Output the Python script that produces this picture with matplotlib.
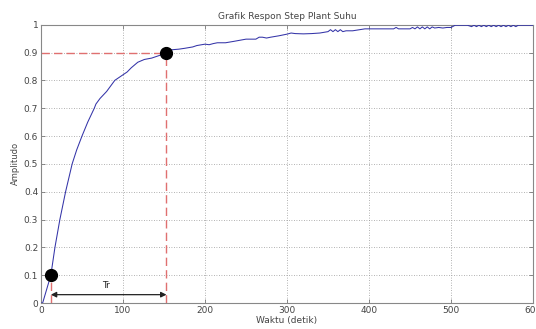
import matplotlib
matplotlib.use("Agg")
import matplotlib.pyplot as plt

# Data
t = [0, 2, 5, 8, 12, 14.5, 17, 20, 23, 26.5, 30, 34, 38, 43.5, 50, 57, 65, 67, 72, 80,
     90, 95, 100, 105, 110, 118, 126, 135, 145, 153, 160, 168, 175, 185, 190,
     200, 205, 210, 215, 225, 235, 250, 262, 266, 270, 275, 280, 290, 295,
     300, 305, 310, 320, 330, 340, 350, 353, 356, 359, 362, 365, 368, 372,
     380, 395, 400, 420, 430, 433, 436, 450, 453, 456, 459, 462, 465, 468,
     471, 474, 477, 480, 485, 490, 495, 500, 505, 520, 525, 528, 531, 534,
     537, 540, 543, 546, 549, 552, 555, 558, 561, 564, 567, 570, 573, 576,
     579, 582, 585, 590, 600]
y = [0.0, 0.0, 0.03, 0.06, 0.1, 0.15, 0.2, 0.25, 0.3, 0.35, 0.4, 0.45, 0.5, 0.55,
     0.6, 0.65, 0.7, 0.715, 0.735, 0.76, 0.8, 0.81, 0.82, 0.83, 0.845, 0.865,
     0.875, 0.88, 0.89, 0.9, 0.91, 0.912, 0.915, 0.92, 0.925, 0.93, 0.928,
     0.932, 0.935, 0.935, 0.94, 0.948, 0.948, 0.955, 0.955, 0.952, 0.955,
     0.96, 0.963, 0.966, 0.97, 0.968, 0.967, 0.968, 0.97, 0.975, 0.982,
     0.975, 0.982, 0.975, 0.982, 0.975, 0.978, 0.978, 0.985, 0.985, 0.985,
     0.985, 0.99, 0.985, 0.985, 0.99, 0.985, 0.992, 0.985, 0.992, 0.985,
     0.992, 0.985, 0.992, 0.988, 0.99, 0.988, 0.99, 0.99, 0.998, 0.998,
     0.993, 0.998, 0.993, 0.998, 0.993, 0.998, 0.993, 0.998, 0.993, 0.998,
     0.993, 0.998, 0.993, 0.998, 0.993, 0.998, 0.993, 0.998, 0.993, 0.998,
     0.998, 0.998, 0.998]

t10, y10 = 12, 0.1
t90, y90 = 153, 0.9
xticks = [0, 100, 200, 300, 400, 500, 600]
yticks = [0, 0.1, 0.2, 0.3, 0.4, 0.5, 0.6, 0.7, 0.8, 0.9, 1]
ytick_labels = ["0", "0.1", "0.2", "0.3", "0.4", "0.5", "0.6", "0.7", "0.8", "0.9", "1"]

fig = plt.figure(figsize=(5.36, 3.29), dpi=100)
ax = fig.add_axes([0.0765, 0.079, 0.918, 0.846])

txt = "#444444"
ax.plot(t, y, color="#3434a8", lw=0.75, zorder=3)

red = "#e07070"
ax.plot([0, t90], [y90, y90], color=red, lw=1.0, dashes=(6, 3), zorder=2)
ax.plot([t90, t90], [0, y90], color=red, lw=1.0, dashes=(6, 3), zorder=2)
ax.plot([t10, t10], [0, y10], color=red, lw=1.0, dashes=(6, 3), zorder=2)

ax.plot([t10, t90], [y10, y90], "o", color="black", ms=8.5, zorder=4)

ax.annotate("", xy=(t10, 0.03), xytext=(t90, 0.03),
            arrowprops=dict(arrowstyle="<|-|>", color="#222222", lw=0.9,
                            mutation_scale=8, shrinkA=0, shrinkB=0))
ax.text((t10 + t90) / 2 - 3, 0.045, "Tr", fontsize=6.5, color="#222222",
        ha="center", va="bottom")

ax.set_xlim(0, 600)
ax.set_ylim(0, 1)
ax.set_xticks(xticks)
ax.set_yticks(yticks)
ax.set_yticklabels(ytick_labels)
ax.tick_params(direction="in", length=3, width=0.6, colors="#777777",
               labelcolor=txt, labelsize=6.5, top=True, right=True, pad=2)
ax.grid(True, linestyle=(0, (1, 2)), color="#999999", lw=0.6)
for s in ax.spines.values():
    s.set_color("#888888")
    s.set_linewidth(0.8)

ax.set_title("Grafik Respon Step Plant Suhu", fontsize=6.5, color=txt, pad=4)
ax.set_xlabel("Waktu (detik)", fontsize=6.5, color=txt, labelpad=1)
ax.set_ylabel("Amplitudo", fontsize=6, color=txt, labelpad=3)

fig.savefig("out.png", dpi=100)
